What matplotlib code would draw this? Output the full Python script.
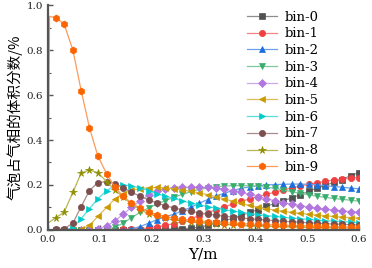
import matplotlib
matplotlib.use("Agg")
import matplotlib.pyplot as plt
import matplotlib.colors as mcolors
from matplotlib.ticker import MultipleLocator

# ---- data -----------------------------------------------------------------------
y_pos = [0.0, 0.003, 0.015, 0.031, 0.048, 0.064, 0.080, 0.096, 0.113, 0.129, 0.145,
         0.161, 0.178, 0.194, 0.210, 0.226, 0.243, 0.259, 0.275, 0.291, 0.308, 0.324,
         0.340, 0.356, 0.373, 0.389, 0.405, 0.421, 0.438, 0.454, 0.470, 0.486, 0.503,
         0.519, 0.535, 0.551, 0.568, 0.584, 0.600]

bin0 = [0, 0, 0, 0, 0, 0, 0, 0, 0, 0, 0, 0, 0, 0, 0.002, 0.003, 0.004, 0.006,
        0.008, 0.012, 0.020, 0.030, 0.040, 0.052, 0.065, 0.078, 0.090, 0.105, 0.118,
        0.130, 0.142, 0.156, 0.172, 0.186, 0.198, 0.212, 0.224, 0.242, 0.255]
bin1 = [0, 0, 0, 0, 0, 0, 0, 0, 0, 0, 0.002, 0.004, 0.006, 0.009, 0.013, 0.020,
        0.028, 0.038, 0.050, 0.063, 0.077, 0.090, 0.103, 0.115, 0.127, 0.138, 0.148,
        0.158, 0.168, 0.178, 0.187, 0.195, 0.203, 0.210, 0.216, 0.222, 0.226, 0.230, 0.233]
bin2 = [0, 0, 0, 0, 0, 0, 0, 0, 0, 0, 0, 0.005, 0.015, 0.030, 0.045, 0.058, 0.070,
        0.085, 0.100, 0.118, 0.135, 0.150, 0.163, 0.175, 0.185, 0.192, 0.197, 0.200,
        0.202, 0.203, 0.204, 0.204, 0.203, 0.200, 0.197, 0.193, 0.190, 0.186, 0.183]
bin3 = [0, 0, 0, 0, 0, 0, 0, 0, 0.003, 0.012, 0.030, 0.055, 0.078, 0.098, 0.115,
        0.130, 0.145, 0.158, 0.170, 0.180, 0.187, 0.192, 0.195, 0.197, 0.197, 0.196,
        0.194, 0.190, 0.185, 0.178, 0.170, 0.163, 0.156, 0.150, 0.145, 0.140, 0.136,
        0.132, 0.128]
bin4 = [0, 0, 0, 0, 0, 0, 0, 0.003, 0.018, 0.040, 0.070, 0.100, 0.130, 0.155, 0.172,
        0.183, 0.188, 0.190, 0.190, 0.190, 0.189, 0.186, 0.181, 0.175, 0.167, 0.158,
        0.148, 0.139, 0.130, 0.122, 0.115, 0.108, 0.102, 0.097, 0.092, 0.088, 0.085,
        0.082, 0.079]
bin5 = [0, 0, 0, 0, 0, 0.002, 0.020, 0.060, 0.100, 0.138, 0.162, 0.176, 0.184, 0.188,
        0.189, 0.187, 0.183, 0.178, 0.172, 0.165, 0.157, 0.148, 0.138, 0.128, 0.118,
        0.109, 0.101, 0.094, 0.088, 0.083, 0.078, 0.074, 0.070, 0.066, 0.063, 0.060,
        0.057, 0.055, 0.053]
bin6 = [0, 0, 0, 0, 0.010, 0.050, 0.095, 0.138, 0.175, 0.195, 0.200, 0.196, 0.186,
        0.175, 0.162, 0.150, 0.140, 0.130, 0.120, 0.112, 0.104, 0.097, 0.090, 0.084,
        0.078, 0.073, 0.068, 0.064, 0.060, 0.056, 0.053, 0.050, 0.047, 0.044, 0.041,
        0.039, 0.037, 0.035, 0.033]
bin7 = [0, 0, 0.003, 0.005, 0.030, 0.104, 0.175, 0.210, 0.215, 0.205, 0.188, 0.168,
        0.150, 0.134, 0.120, 0.108, 0.098, 0.090, 0.083, 0.077, 0.071, 0.066, 0.061,
        0.057, 0.053, 0.050, 0.047, 0.044, 0.041, 0.039, 0.036, 0.034, 0.032, 0.030,
        0.028, 0.026, 0.025, 0.023, 0.022]
bin8 = [0.030, 0.035, 0.055, 0.078, 0.167, 0.253, 0.267, 0.255, 0.215, 0.178, 0.145,
        0.115, 0.090, 0.072, 0.060, 0.051, 0.045, 0.040, 0.036, 0.032, 0.029, 0.026,
        0.024, 0.022, 0.020, 0.018, 0.017, 0.016, 0.015, 0.014, 0.013, 0.012, 0.011,
        0.010, 0.010, 0.009, 0.009, 0.008, 0.008]
bin9 = [0, 0.950, 0.943, 0.917, 0.800, 0.620, 0.455, 0.330, 0.250, 0.190, 0.150,
        0.120, 0.097, 0.080, 0.068, 0.059, 0.052, 0.047, 0.043, 0.040, 0.037, 0.034,
        0.032, 0.030, 0.028, 0.026, 0.025, 0.023, 0.022, 0.021, 0.020, 0.019, 0.018,
        0.017, 0.016, 0.015, 0.014, 0.013, 0.012]

labels = ["bin-0", "bin-1", "bin-2", "bin-3", "bin-4",
          "bin-5", "bin-6", "bin-7", "bin-8", "bin-9"]
series = [bin0, bin1, bin2, bin3, bin4, bin5, bin6, bin7, bin8, bin9]

# ---- style ---------------------------------------------------------------------
COLORS = ["#515151", "#F14040", "#1A6FDF", "#37AD6B", "#B177DE",
          "#CC9900", "#00CBCC", "#7D4E4E", "#8E8E00", "#FB6501"]
MARKERS = ["s", "o", "^", "v", "D", "<", ">", "o", "*", "h"]
SIZES = [4, 4.5, 4.5, 4.5, 3.8, 4.5, 4.5, 4.5, 5.5, 5]
SPINE = "#555555"
SERIF = "DejaVu Serif"


def lighten(c, amount=0.35):
    r, g, b = mcolors.to_rgb(c)
    return (r + (1 - r) * amount, g + (1 - g) * amount, b + (1 - b) * amount)


fig = plt.figure(figsize=(3.72, 2.68), dpi=100)
ax = fig.add_axes([0.129, 0.142, 0.836, 0.839])

for vals, lab, c, m, ms in zip(series, labels, COLORS, MARKERS, SIZES):
    ax.plot(y_pos, vals, color=lighten(c), linewidth=0.9, marker=m, markersize=ms,
            markerfacecolor=c, markeredgecolor=c, markeredgewidth=0.5,
            markevery=slice(2, None), label=lab)

ax.set_xlim(0, 0.6)
ax.set_ylim(0, 1.0)
ax.xaxis.set_major_locator(MultipleLocator(0.1))
ax.xaxis.set_minor_locator(MultipleLocator(0.05))
ax.yaxis.set_major_locator(MultipleLocator(0.2))
ax.yaxis.set_minor_locator(MultipleLocator(0.1))
ax.tick_params(which="both", direction="in", colors=SPINE, labelcolor="#222222")
ax.tick_params(which="major", length=3.5, width=1.0, labelsize=7.5)
ax.tick_params(which="minor", length=2, width=0.8)
for lbl in ax.get_xticklabels() + ax.get_yticklabels():
    lbl.set_family(SERIF)
for side in ("top", "right"):
    ax.spines[side].set_visible(False)
for side in ("left", "bottom"):
    ax.spines[side].set_color(SPINE)
    ax.spines[side].set_linewidth(1.6)

ax.set_xlabel("Y/m", fontsize=11, family=SERIF, labelpad=3)
ax.set_ylabel("气泡占气相的体积分数/%", fontsize=10.5,
              family=["Noto Sans CJK SC", "DejaVu Sans"], labelpad=3)

leg = ax.legend(loc="upper left", bbox_to_anchor=(0.645, 0.985),
                bbox_transform=fig.transFigure, frameon=False, handlelength=2.3,
                handletextpad=0.6, labelspacing=0.28, borderpad=0,
                prop={"family": SERIF, "size": 9.5})

fig.savefig("out.png", dpi=100, facecolor="white")
